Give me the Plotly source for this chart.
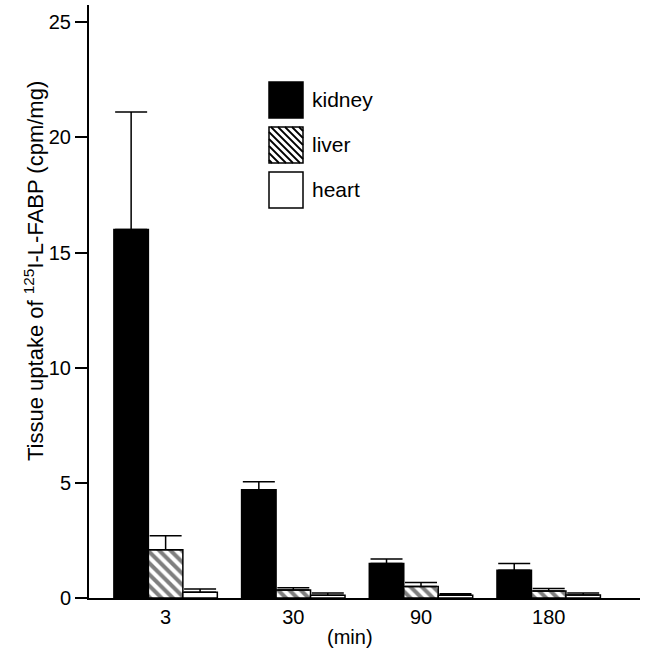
import plotly.graph_objects as go

# ---- data ----
times = ["3", "30", "90", "180"]
kidney = [16.0, 4.7, 1.5, 1.2]
kidney_err = [5.1, 0.35, 0.19, 0.3]
liver = [2.1, 0.35, 0.5, 0.3]
liver_err = [0.6, 0.09, 0.17, 0.11]
heart = [0.25, 0.12, 0.12, 0.13]
heart_err = [0.14, 0.1, 0.06, 0.09]
y_ticks = [0, 5, 10, 15, 20, 25]
legend_names = ["kidney", "liver", "heart"]

FONT = "Liberation Sans, Arial, Helvetica, sans-serif"
W, H = 646, 656
L, R, T, B = 89, 6, 5, 58

def px(x):
    return (x - L) / (W - L - R)

def py(y):
    return (H - B - y) / (H - T - B)

def err(vals):
    return dict(type="data", array=vals, arrayminus=[0] * len(vals), symmetric=False,
                color="black", thickness=1.5, width=16)

fig = go.Figure()
fig.add_trace(go.Bar(x=times, y=kidney, name="kidney", error_y=err(kidney_err),
                     marker=dict(color="black", line=dict(color="black", width=1.5))))
fig.add_trace(go.Bar(x=times, y=liver, name="liver", error_y=err(liver_err),
                     marker=dict(color="white", line=dict(color="black", width=1.5),
                                 pattern=dict(shape="\\", fgcolor="black", bgcolor="white",
                                              size=8, solidity=0.5))))
fig.add_trace(go.Bar(x=times, y=heart, name="heart", error_y=err(heart_err),
                     marker=dict(color="white", line=dict(color="black", width=1.5))))

shapes = []
annotations = []
# manual legend
boxes = [(269, 82, 303, 118), (269, 127, 303, 163), (269, 172, 303, 208)]
fills = ["black", "white", "white"]
for (x0, y0, x1, y1), fc, name in zip(boxes, fills, legend_names):
    shapes.append(dict(type="rect", xref="paper", yref="paper",
                       x0=px(x0), x1=px(x1), y0=py(y1), y1=py(y0),
                       fillcolor=fc, line=dict(color="black", width=1.5), layer="above"))
    annotations.append(dict(text=name, xref="paper", yref="paper", x=px(310),
                            y=py((y0 + y1) / 2), xanchor="left", yanchor="middle",
                            showarrow=False, font=dict(family=FONT, size=21, color="black")))
# hatch lines for liver legend box
x0, y0, x1, y1 = boxes[1]
c = x0 - y1 + 3
while c < x1 - y0:
    # line: x - y = c (screen coords), clipped to box
    sx, sy = max(x0, c + y0), max(y0, x0 - c)
    ex, ey = min(x1, c + y1), min(y1, x1 - c)
    if ex > sx:
        shapes.append(dict(type="line", xref="paper", yref="paper",
                           x0=px(sx), y0=py(sy), x1=px(ex), y1=py(ey),
                           line=dict(color="black", width=1.8), layer="above"))
    c += 7

annotations.append(dict(text="Tissue uptake of <sup>125</sup>I-L-FABP (cpm/mg)",
                        xref="paper", yref="paper", x=px(34), y=py(271),
                        xanchor="center", yanchor="middle", textangle=-90, showarrow=False,
                        font=dict(family=FONT, size=22, color="black")))
annotations.append(dict(text="(min)", xref="paper", yref="paper", x=px(350), y=py(637),
                        xanchor="center", yanchor="middle", showarrow=False,
                        font=dict(family=FONT, size=20, color="black")))

fig.update_layout(
    width=W, height=H, margin=dict(l=L, r=R, t=T, b=B),
    paper_bgcolor="white", plot_bgcolor="white",
    barmode="group", bargap=0.19, bargroupgap=0,
    showlegend=False,
    font=dict(family=FONT, size=20, color="black"),
    shapes=shapes, annotations=annotations,
    xaxis=dict(type="category", range=[-0.6, 3.715], showline=True, linecolor="black",
               linewidth=2, ticks="", showgrid=False, zeroline=False, automargin=False,
               tickfont=dict(family=FONT, size=20, color="black")),
    yaxis=dict(range=[0, 25.75], tickvals=y_ticks, showline=True, linecolor="black",
               linewidth=2, ticks="outside", ticklen=12, tickwidth=1.5, tickcolor="black",
               showgrid=False, zeroline=False, automargin=False,
               tickfont=dict(family=FONT, size=20, color="black")),
)

fig.write_html("out.html", config={"displayModeBar": False},
               post_script="document.body.style.margin='0';document.body.style.overflow='hidden';")
